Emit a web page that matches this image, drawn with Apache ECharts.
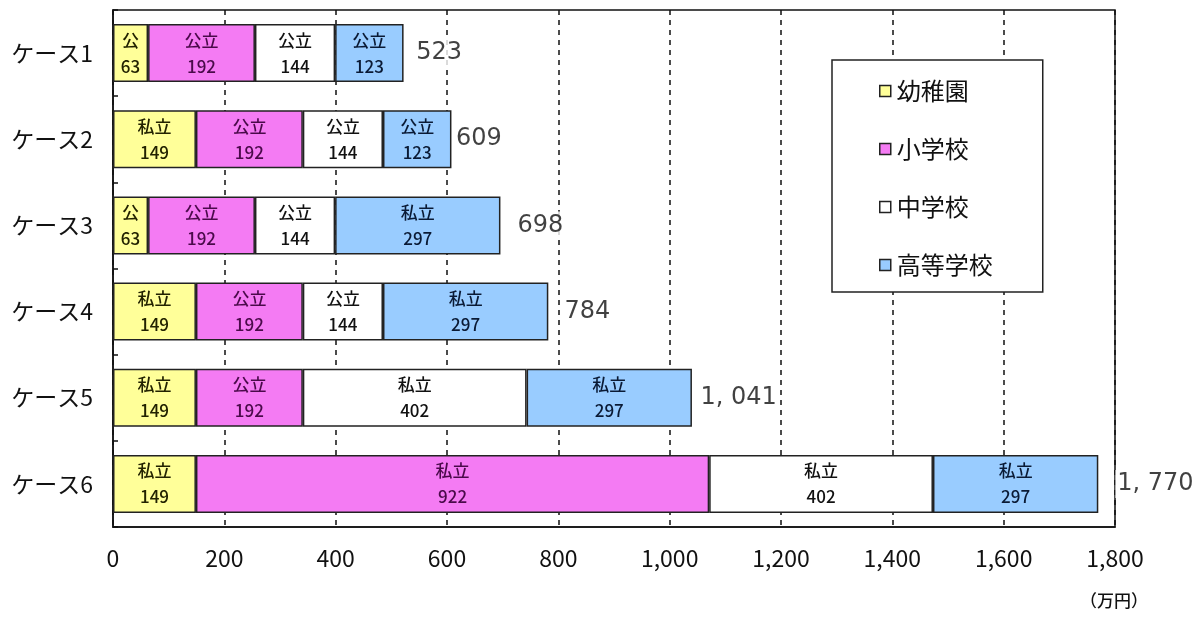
<!DOCTYPE html>
<html>
<head>
<meta charset="utf-8">
<script src="https://cdn.jsdelivr.net/npm/echarts@6/dist/echarts.min.js"></script>
<style>
  html, body { margin: 0; padding: 0; background: #fff; }
  #chart { width: 1200px; height: 621px; }
</style>
</head>
<body>
<div id="chart"></div>
<script>
// データ
const categories = ["ケース1", "ケース2", "ケース3", "ケース4", "ケース5", "ケース6"];
const seriesNames = ["幼稚園", "小学校", "中学校", "高等学校"];
const youchien = [63, 149, 63, 149, 149, 149];
const shougakkou = [192, 192, 192, 192, 192, 922];
const chuugakkou = [144, 144, 144, 144, 402, 402];
const koukou = [123, 123, 297, 297, 297, 297];
const youchienType = ["公", "私立", "公", "私立", "私立", "私立"];
const shougakkouType = ["公立", "公立", "公立", "公立", "公立", "私立"];
const chuugakkouType = ["公立", "公立", "公立", "公立", "私立", "私立"];
const koukouType = ["公立", "公立", "私立", "私立", "私立", "私立"];
const totals = [523, 609, 698, 784, 1041, 1770];
const totalLabels = ["523", "609", "698", "784", "1, 041", "1, 770"];
const xTicks = [0, 200, 400, 600, 800, 1000, 1200, 1400, 1600, 1800];

// 見た目
const colors = ["#FFFF99", "#F47BF3", "#FFFFFF", "#99CCFF"];
const textColors = ["#222200", "#4a0a4a", "#111111", "#0a1a35"];
const totalGap = [10, 2, 14, 13, 6, 17];
const jp = "'Noto Sans CJK JP', sans-serif";

const chart = echarts.init(document.getElementById("chart"));

function makeBar(idx, values, types) {
  return {
    name: seriesNames[idx],
    type: "bar",
    stack: "total",
    barWidth: 58,
    itemStyle: { color: colors[idx], borderColor: "#222", borderWidth: 1.5 },
    label: {
      show: true,
      position: "inside",
      fontFamily: jp,
      fontSize: 17,
      fontWeight: 500,
      lineHeight: 26,
      color: textColors[idx],
      formatter: (p) => types[p.dataIndex] + "\n" + values[p.dataIndex],
    },
    emphasis: { disabled: true },
    data: values,
  };
}

chart.setOption({
  animation: false,
  grid: {
    left: 113, right: 85, top: 10, bottom: 94,
    containLabel: false, outerBoundsMode: "none",
    show: true, borderColor: "#111", borderWidth: 1.5,
  },
  legend: {
    orient: "vertical",
    left: 832, top: 60,
    padding: [19, 50, 15, 47],
    itemGap: 34,
    itemWidth: 11, itemHeight: 11,
    backgroundColor: "#fff",
    borderColor: "#222", borderWidth: 1.5,
    textStyle: { fontFamily: jp, fontSize: 24, color: "#111", padding: [0, 0, 0, 1] },
    itemStyle: { borderColor: "#222", borderWidth: 1.5 },
    data: seriesNames.map((n) => ({ name: n, icon: "rect" })),
  },
  xAxis: {
    type: "value",
    min: xTicks[0], max: xTicks[xTicks.length - 1], interval: 200,
    axisLine: { show: true, lineStyle: { color: "#111", width: 1.5 } },
    axisTick: { show: false },
    axisLabel: {
      margin: 20, fontSize: 23, color: "#111", fontFamily: jp,
      formatter: (v) => v.toLocaleString("en-US"),
    },
    splitLine: { show: true, lineStyle: { color: "#111", width: 1.5, type: [5, 5] } },
  },
  yAxis: {
    type: "category",
    inverse: true,
    data: categories,
    axisLine: { show: true, lineStyle: { color: "#111", width: 1.5 } },
    axisTick: { show: true, inside: true, length: 5, lineStyle: { color: "#111", width: 1.5 } },
    axisLabel: { margin: 20, fontSize: 23, color: "#111", fontFamily: jp },
  },
  series: [
    makeBar(0, youchien, youchienType),
    makeBar(1, shougakkou, shougakkouType),
    makeBar(2, chuugakkou, chuugakkouType),
    makeBar(3, koukou, koukouType),
    {
      name: "合計",
      type: "scatter",
      symbolSize: 0,
      silent: true,
      z: 10,
      label: {
        show: true,
        position: "right",
        fontFamily: "'DejaVu Sans', sans-serif",
        fontSize: 24,
        color: "#111",
        backgroundColor: "#fff",
        padding: [2, 2],
        formatter: (p) => totalLabels[p.dataIndex],
      },
      data: totals.map((t, i) => ({ value: [t, i], label: { distance: totalGap[i] } })),
    },
  ],
  graphic: [
    {
      type: "text", left: 1080, top: 592,
      style: { text: "（万円）", fontFamily: jp, fontSize: 17, fontWeight: 500, fill: "#111" },
    },
  ],
});
</script>
</body>
</html>
